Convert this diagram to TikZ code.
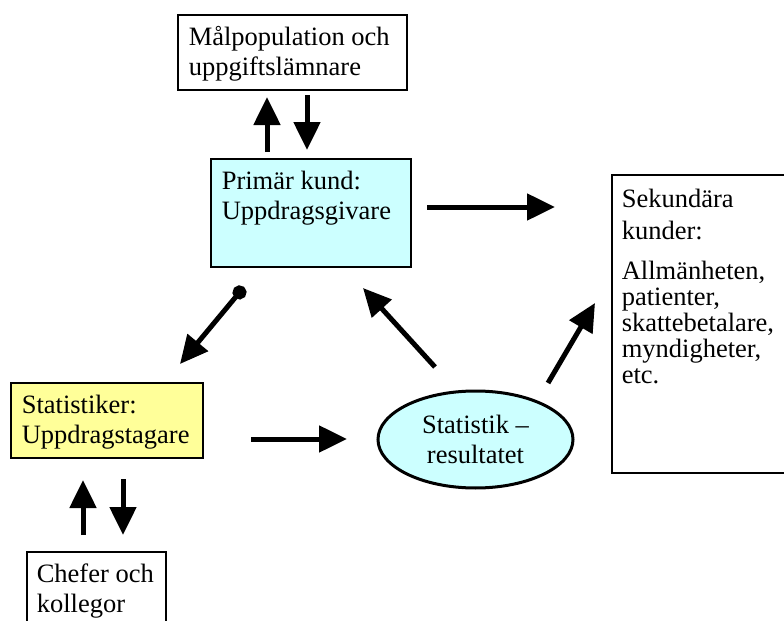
\documentclass[tikz,border=0pt]{standalone}
\usepackage{fontspec}
\setmainfont{Liberation Serif}
\usepackage{xcolor}
\usetikzlibrary{arrows.meta,shapes.geometric,positioning}

\definecolor{kundcyan}{HTML}{CCFFFF}
\definecolor{statgul}{HTML}{FFFF99}

\begin{document}
\begin{tikzpicture}[x=0.5pt,y=-0.5pt,
  font=\fontsize{13.25}{15}\selectfont,
  ruta/.style={draw,line width=0.6pt,rectangle,inner sep=0pt},
  tekst/.style={inner sep=0pt,align=left},
  pil/.style={line width=2.5pt,-{Triangle[width=13pt,length=14pt]}},
  prickpil/.style={line width=2.5pt,{Circle[length=7pt]}-{Triangle[width=13pt,length=14pt]}}]

\clip (0,0) rectangle (784,621);

% --- Boxes (text sits at the top left) ---
\node[ruta,minimum width=114.5pt,minimum height=37.5pt] (malpop) at (292.5,52.5) {};
\node[tekst,below right=5pt and 5.5pt of malpop.north west] (malpoptext)
  {\strut Målpopulation och\\uppgiftslämnare};

\node[ruta,fill=kundcyan,minimum width=100pt,minimum height=54pt] (primar) at (311,213) {};
\node[tekst,below right=5pt and 5.5pt of primar.north west] (primartext)
  {\strut Primär kund:\\Uppdragsgivare};

\node[ruta,fill=statgul,minimum width=96pt,minimum height=37.5pt] (statistiker) at (107,420.5) {};
\node[tekst,below right=5pt and 5.5pt of statistiker.north west] (statistikertext)
  {\strut Statistiker:\\Uppdragstagare};

\node[ruta,minimum width=69.5pt,minimum height=44pt] (chefer) at (96.5,596) {};
\node[tekst,below right=5pt and 5pt of chefer.north west] (chefertext)
  {\strut Chefer och\\kollegor};

\node[ruta,minimum width=94pt,minimum height=149pt] (sekundar) at (706,324) {};
\node[tekst,font=\fontsize{13.25}{13}\selectfont,below right=7pt and 5pt of sekundar.north west] (sekundartext)
  {\strut Sekundära\\[2pt]kunder:\\[7pt]Allmänheten,\\patienter,\\skattebetalare,\\myndigheter,\\etc.};

% Result ellipse
\node[ellipse,draw,line width=1.5pt,fill=kundcyan,minimum width=97.5pt,minimum height=48.5pt,
  inner sep=0pt,align=center] (resultat) at (475.5,439.5) {Statistik --\\resultatet};

% --- Arrow end points ---
\coordinate (m1) at (267,152); \coordinate (m2) at (267,97);
\coordinate (m3) at (307,95);  \coordinate (m4) at (307,150);
\coordinate (p1) at (427,207); \coordinate (p2) at (555,207);
\coordinate (d1) at (244,287); \coordinate (d2) at (180,364);
\coordinate (r1) at (435,367); \coordinate (r2) at (363,288);
\coordinate (r3) at (548,383); \coordinate (r4) at (595,303);
\coordinate (s1) at (251,439); \coordinate (s2) at (347,439);
\coordinate (c1) at (83,535);  \coordinate (c2) at (83,480);
\coordinate (c3) at (123,479); \coordinate (c4) at (123,535);

% --- Arrows ---
\draw[pil] (m1) -- (m2);
\draw[pil] (m3) -- (m4);
\draw[pil] (p1) -- (p2);
\draw[prickpil] (d1) -- (d2);
\draw[pil] (r1) -- (r2);
\draw[pil] (r3) -- (r4);
\draw[pil] (s1) -- (s2);
\draw[pil] (c1) -- (c2);
\draw[pil] (c3) -- (c4);

\end{tikzpicture}
\end{document}
